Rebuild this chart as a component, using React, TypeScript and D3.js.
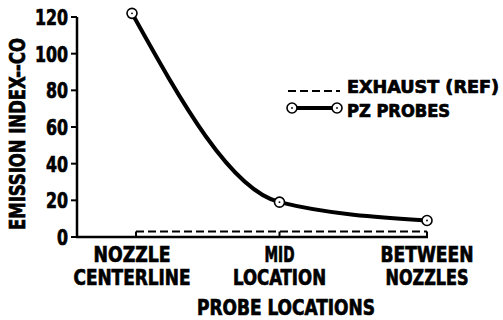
import React from "react";
import { scaleLinear, scalePoint, line, curveMonotoneX } from "d3";

// probe locations (two-line labels)
const categories = ["NOZZLE CENTERLINE", "MID LOCATION", "BETWEEN NOZZLES"];
const catLines = [["NOZZLE", "CENTERLINE"], ["MID", "LOCATION"], ["BETWEEN", "NOZZLES"]];
const pzProbes = [122, 19, 9];
const exhaust = [3, 3, 3];
const yTicks = [0, 20, 40, 60, 80, 100, 120];

const FONT = "'DejaVu Sans Condensed', 'DejaVu Sans', sans-serif";
// measured label widths in the original lettering (tall, narrow type)
const catWidths = [[77, 117], [30, 93], [93, 83]];

function App() {
  const x = scalePoint<string>().domain(categories).range([132, 427]);
  const y = scaleLinear().domain([0, 120]).range([237, 17]);
  const axisX = 77;

  const pzPts = categories.map((c, i) => [x(c)!, y(pzProbes[i])] as [number, number]);
  const curve = line().curve(curveMonotoneX)(pzPts) || "";

  const exX0 = x(categories[0])! + 4;
  const exX1 = x(categories[categories.length - 1])!;
  const exY = y(exhaust[0]);

  const marker = (cx: number, cy: number, key: string) => (
    <g key={key}>
      <circle cx={cx} cy={cy} r={5} fill="#fff" stroke="#000" strokeWidth={1.6} />
      <circle cx={cx} cy={cy} r={0.9} fill="#000" />
    </g>
  );

  return (
    <svg width={503} height={320} style={{ position: "absolute", left: 0, top: 0, background: "#fff" }}>
      {/* y axis */}
      <line x1={axisX} x2={axisX} y1={y(120)} y2={y(0)} stroke="#000" strokeWidth={2.5} />
      {yTicks.map((t) => (
        <line key={t} x1={axisX - 6} x2={axisX} y1={y(t)} y2={y(t)} stroke="#000" strokeWidth={2} />
      ))}
      {/* x axis */}
      <line x1={axisX - 1} x2={exX1 + 1} y1={y(0)} y2={y(0)} stroke="#000" strokeWidth={2.5} />
      {/* exhaust reference */}
      <path d={`M${exX0},${exY}H${exX1}`} fill="none" stroke="#000" strokeWidth={2.2} strokeDasharray="8,4" />
      {categories.map((c, i) => (
        <line key={c} x1={i === 0 ? exX0 : x(c)} x2={i === 0 ? exX0 : x(c)} y1={y(0)} y2={y(exhaust[i])}
          stroke="#000" strokeWidth={2} />
      ))}
      {/* PZ probes */}
      <path d={curve} fill="none" stroke="#000" strokeWidth={4} />
      {pzPts.map((p, i) => marker(p[0], p[1], "m" + i))}

      <g fontFamily={FONT} fontWeight="bold" stroke="#000" strokeWidth={0.7}>
        {yTicks.map((t) => (
          <text key={t} x={68} y={y(t) + 8} textAnchor="end" fontSize={22}
            textLength={11 * String(t).length} lengthAdjust="spacingAndGlyphs">{t}</text>
        ))}
        {categories.map((c, i) => (
          <g key={c}>
            <text x={x(c)} y={262} textAnchor="middle" fontSize={22}
              textLength={catWidths[i][0]} lengthAdjust="spacingAndGlyphs">{catLines[i][0]}</text>
            <text x={x(c)} y={285} textAnchor="middle" fontSize={22}
              textLength={catWidths[i][1]} lengthAdjust="spacingAndGlyphs">{catLines[i][1]}</text>
          </g>
        ))}
        <text x={286} y={315} textAnchor="middle" fontSize={22} textLength={178} lengthAdjust="spacingAndGlyphs">PROBE LOCATIONS</text>
        <text transform="translate(25,134) rotate(-90)" textAnchor="middle" fontSize={21}
          textLength={192} lengthAdjust="spacingAndGlyphs">EMISSION INDEX--CO</text>
        <text x={347} y={93} fontSize={18} textLength={152} lengthAdjust="spacingAndGlyphs">EXHAUST (REF)</text>
        <text x={347} y={117} fontSize={18} textLength={103} lengthAdjust="spacingAndGlyphs">PZ PROBES</text>
      </g>
      {/* legend symbols */}
      <line x1={288} x2={340} y1={91} y2={91} stroke="#000" strokeWidth={2.2} strokeDasharray="8,4" />
      <line x1={292} x2={337} y1={108} y2={108} stroke="#000" strokeWidth={4} />
      {marker(292, 108, "l1")}
      {marker(337, 108, "l2")}
    </svg>
  );
}

export default App;
